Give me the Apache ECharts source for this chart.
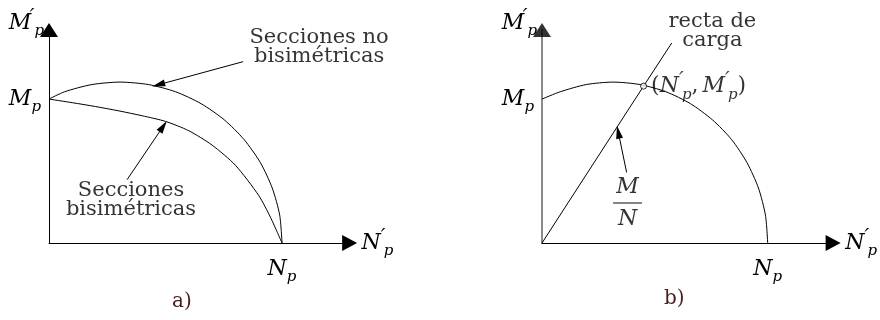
<!DOCTYPE html>
<html>
<head>
<meta charset="utf-8">
<script src="https://cdn.jsdelivr.net/npm/echarts@6/dist/echarts.min.js"></script>
<style>
  html, body { margin: 0; padding: 0; background: #fff; }
  #chart { width: 880px; height: 320px; }
</style>
</head>
<body>
<div id="chart"></div>
<script>
// Plastic interaction diagrams N'p – M'p.
// Horizontal values are N'p / Np, vertical values are M'p / Mp.
const xMax = 1.29;
const yMax = 1.48;
const npTick = 1;   // position of the Np label
const mpTick = 1;   // position of the Mp label

// a) sections without bisymmetry (upper arc) and bisymmetric sections (lower curve)
const noBisimetricas = [
  [0, 1.00], [0.067, 1.051], [0.184, 1.101], [0.305, 1.118], [0.426, 1.101],
  [0.543, 1.051], [0.653, 0.968], [0.752, 0.856], [0.837, 0.719], [0.907, 0.559],
  [0.958, 0.382], [0.990, 0.194], [1.00, 0]
];
const bisimetricas = [
  [0, 1.00], [0.1, 0.975], [0.2, 0.948], [0.3, 0.918], [0.4, 0.884], [0.5, 0.845],
  [0.6, 0.78], [0.7, 0.68], [0.8, 0.54], [0.9, 0.33], [0.95, 0.18], [1.00, 0]
];

// b) interaction curve, load line and the plastic point where they cross
const interaccion = [
  [0, 1.00], [0.081, 1.051], [0.196, 1.101], [0.315, 1.118], [0.434, 1.101],
  [0.549, 1.051], [0.658, 0.968], [0.755, 0.856], [0.840, 0.719], [0.908, 0.559],
  [0.959, 0.382], [0.990, 0.194], [1.00, 0]
];
const rectaCarga = [[0, 0], [0.45, 1.09], [0.575, 1.39]];
const puntoPlastico = [0.45, 1.09];

// annotation arrows: [tail, head]
const flechaNoBisim = [[0.833, 1.26], [0.47, 1.10]];
const flechaBisim = [[0.335, 0.44], [0.49, 0.81]];
const flechaMN = [[0.375, 0.49], [0.338, 0.77]];

const serif = "'DejaVu Serif', 'Liberation Serif', serif";
const ink = '#000';

const rich = {
  i:  { fontFamily: serif, fontStyle: 'italic', fontSize: 22, lineHeight: 32, color: ink },
  r:  { fontFamily: serif, fontSize: 22, lineHeight: 32, color: ink },
  c:  { fontFamily: serif, fontSize: 22, lineHeight: 32, color: ink, padding: [0, 4, 0, 0] },
  pr: { fontFamily: serif, fontStyle: 'italic', fontSize: 21, lineHeight: 26, verticalAlign: 'top', width: 3, color: ink },
  s:  { fontFamily: serif, fontStyle: 'italic', fontSize: 15, lineHeight: 12, verticalAlign: 'bottom', color: ink }
};

const txtNp = '{i|N}{s|p}';
const txtMp = '{i|M}{s|p}';
const txtNpp = "{i|N}{pr|′}{s|p}";
const txtMpp = "{i|M}{pr|′}{s|p}";

function xAxis(grid) {
  return {
    gridIndex: grid, type: 'value', min: 0, max: xMax, interval: 0.5,
    axisLine: { show: true, onZero: false, lineStyle: { color: ink, width: 1 },
      symbol: ['none', 'triangle'], symbolSize: [16, 15] },
    axisTick: { show: false }, splitLine: { show: false },
    axisLabel: { formatter: v => (v === npTick ? txtNp : ''), rich, margin: 10,
      showMinLabel: true, showMaxLabel: false },
    name: txtNpp, nameLocation: 'end', nameGap: 12,
    nameTextStyle: { rich, align: 'left', verticalAlign: 'middle' }
  };
}

function yAxis(grid, color, arrow) {
  return {
    gridIndex: grid, type: 'value', min: 0, max: yMax, interval: 0.5,
    axisLine: { show: true, onZero: false, lineStyle: { color, width: color === ink ? 1 : 2 },
      symbol: arrow ? ['none', 'triangle'] : ['none', 'none'], symbolSize: [18, 14] },
    axisTick: { show: false }, splitLine: { show: false },
    axisLabel: { formatter: v => (v === mpTick ? txtMp : ''), rich, margin: 8,
      showMinLabel: false, showMaxLabel: false },
    name: txtMpp, nameLocation: 'end', nameGap: 7,
    nameTextStyle: { rich, align: 'right', verticalAlign: 'middle', padding: [0, 5, 0, 0] }
  };
}

const curveStyle = { color: ink, width: 1 };

function arrowMark(pair) {
  return {
    silent: true, symbol: ['none', 'triangle'], symbolSize: [7, 13],
    lineStyle: { color: ink, width: 1, type: 'solid' },
    itemStyle: { color: ink },
    label: { show: false }, emphasis: { disabled: true },
    data: [[{ coord: pair[0] }, { coord: pair[1] }]]
  };
}

function curve(name, data, grid, mark) {
  return {
    name, type: 'line', xAxisIndex: grid, yAxisIndex: grid, data,
    smooth: 0.25, symbol: 'none', lineStyle: curveStyle, silent: true,
    markLine: mark ? arrowMark(mark) : undefined, z: 3
  };
}

const textLabel = (formatter) => ({
  show: true, position: 'inside', formatter, align: 'center',
  fontFamily: serif, fontSize: 21, lineHeight: 19, color: ink
});

const chart = echarts.init(document.getElementById('chart'), null, { renderer: 'canvas' });

chart.setOption({
  backgroundColor: '#fff',
  animation: false,
  title: [
    { text: 'a)', left: 172, top: 292, padding: 0,
      textStyle: { fontFamily: serif, fontSize: 20, fontWeight: 'normal', color: '#4a1e1e' } },
    { text: 'b)', left: 664, top: 289, padding: 0,
      textStyle: { fontFamily: serif, fontSize: 20, fontWeight: 'normal', color: '#4a1e1e' } }
  ],
  grid: [
    { left: 49, top: 30, width: 300.6, height: 213 },
    { left: 542, top: 30, width: 299.3, height: 213 }
  ],
  xAxis: [xAxis(0), xAxis(1)],
  yAxis: [yAxis(0, ink, true), yAxis(1, '#8a8a8a', false)],
  series: [
    curve('Secciones no bisimétricas', noBisimetricas, 0, flechaNoBisim),
    curve('Secciones bisimétricas', bisimetricas, 0, flechaBisim),
    {
      type: 'scatter', xAxisIndex: 0, yAxisIndex: 0, symbolSize: 0, silent: true, z: 5,
      data: [
        { value: [1.159, 1.36], label: textLabel('Secciones no\nbisimétricas') },
        { value: [0.352, 0.30], label: textLabel('Secciones\nbisimétricas') }
      ]
    },
    curve('Interacción', interaccion, 1, null),
    {
      name: 'recta de carga', type: 'line', xAxisIndex: 1, yAxisIndex: 1, data: rectaCarga,
      symbol: 'none', lineStyle: curveStyle, silent: true, z: 3,
      markLine: arrowMark(flechaMN)
    },
    {
      type: 'scatter', xAxisIndex: 1, yAxisIndex: 1, silent: true, z: 6,
      symbol: 'circle', symbolSize: 6,
      itemStyle: { color: '#fff', borderColor: ink, borderWidth: 1 },
      data: [{
        value: puntoPlastico,
        label: { show: true, position: 'right', distance: 4, rich,
          formatter: '{r|(}' + txtNpp + '{c|,}' + txtMpp + '{r|)}' }
      }]
    },
    {
      type: 'scatter', xAxisIndex: 1, yAxisIndex: 1, silent: true, z: 5,
      symbol: 'rect', symbolSize: [29, 1.2], itemStyle: { color: ink },
      data: [
        { value: [0.379, 0.278],
          label: { show: true, position: 'inside', rich, formatter: '{i|M}\n{i|N}' } },
        { value: [0.755, 1.47], symbolSize: 0,
          label: textLabel('recta de\ncarga') }
      ]
    },
    {
      type: 'scatter', xAxisIndex: 1, yAxisIndex: 1, silent: true, z: 6,
      symbol: 'triangle', symbolSize: [18, 14], itemStyle: { color: ink },
      data: [[0, yMax]]
    }
  ]
});
</script>
</body>
</html>
